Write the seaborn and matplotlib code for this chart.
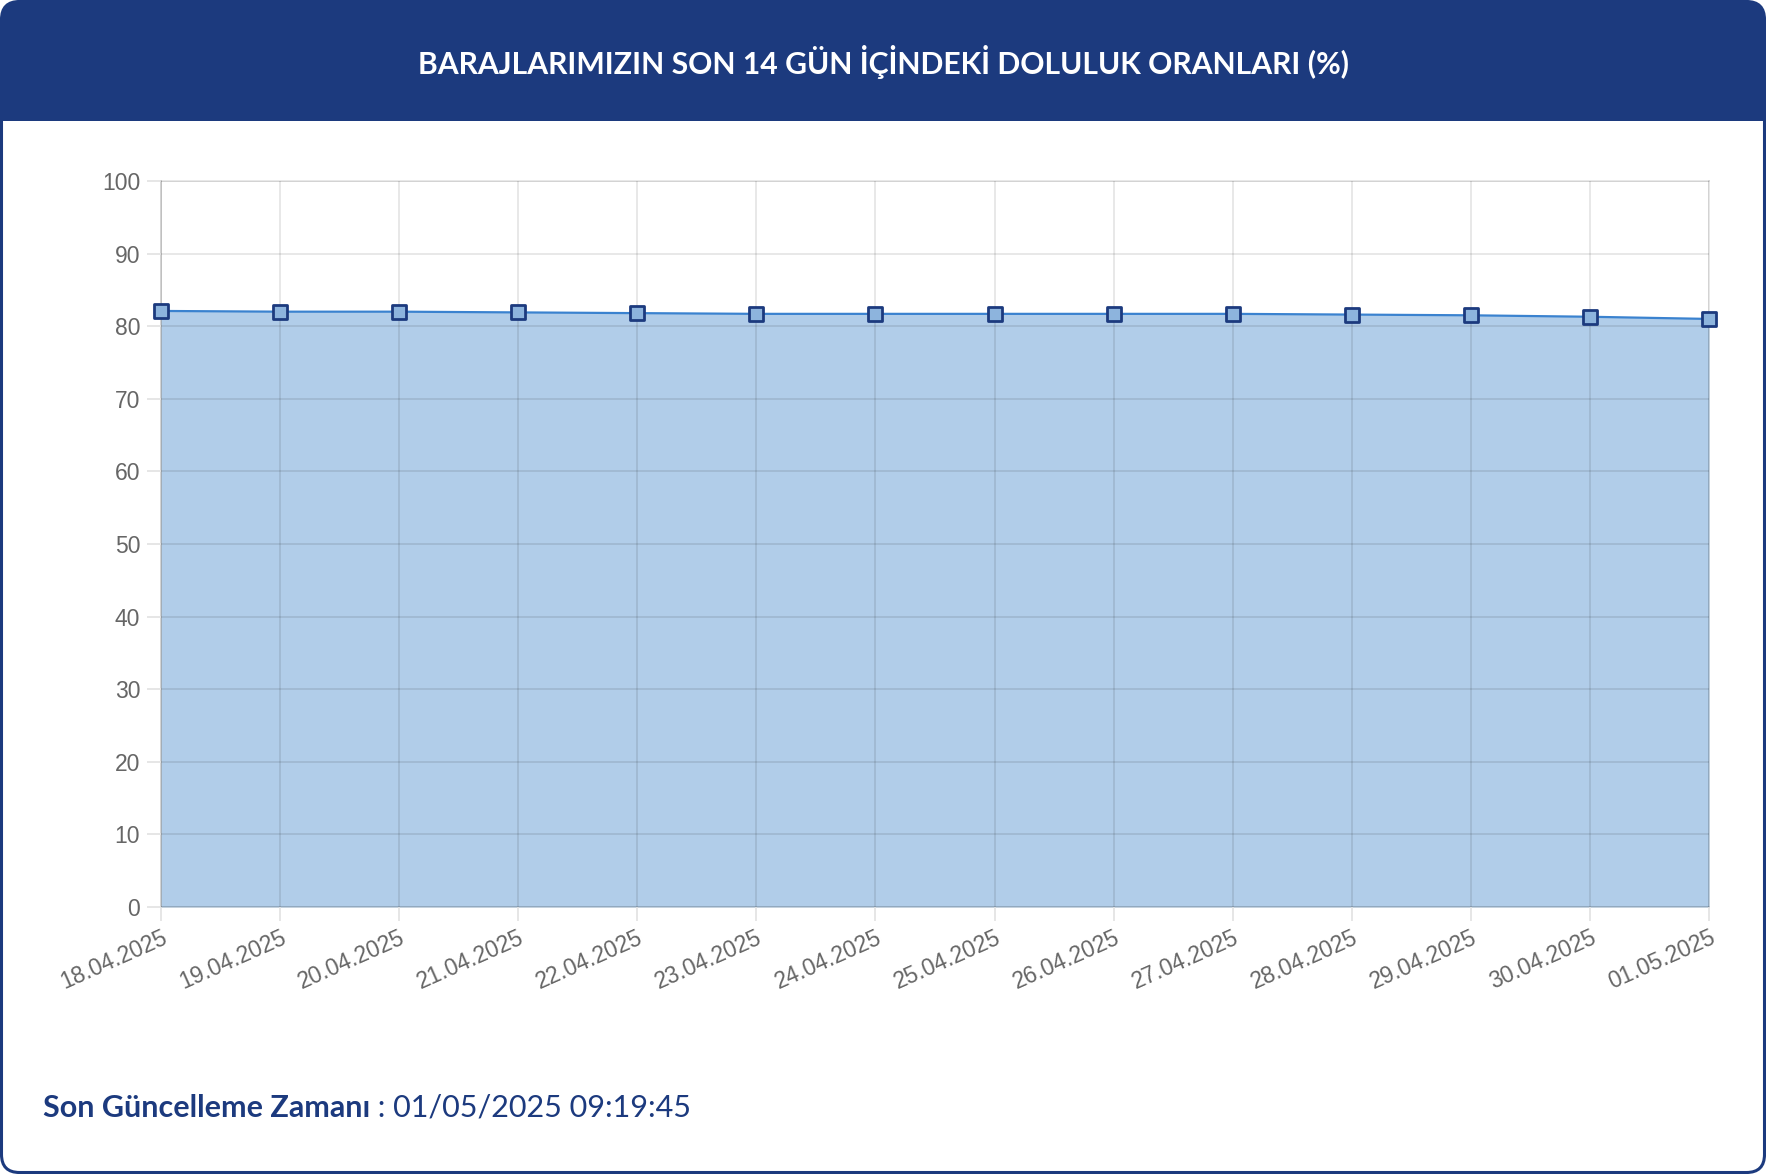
import matplotlib
matplotlib.use("Agg")
import matplotlib.pyplot as plt
import seaborn as sns
import pandas as pd
from matplotlib.patches import FancyBboxPatch, Rectangle
from matplotlib.markers import MarkerStyle

# veriler
tarihler = ["18.04.2025", "19.04.2025", "20.04.2025", "21.04.2025", "22.04.2025",
            "23.04.2025", "24.04.2025", "25.04.2025", "26.04.2025", "27.04.2025",
            "28.04.2025", "29.04.2025", "30.04.2025", "01.05.2025"]
doluluk = [82.1, 82.0, 82.0, 81.9, 81.8, 81.7, 81.7, 81.7, 81.7, 81.7,
           81.6, 81.5, 81.3, 81.0]
y_ticks = list(range(0, 101, 10))

baslik = "BARAJLARIMIZIN SON 14 GÜN İÇİNDEKİ DOLULUK ORANLARI (%)"
guncelleme_etiket = "Son Güncelleme Zamanı"
guncelleme_zaman = " : 01/05/2025 09:19:45"

LACIVERT = "#1c3a7e"
GRID = (0, 0, 0, 0.11)

sns.set_theme(style="white")
plt.rcParams['font.family'] = ['Liberation Sans', 'DejaVu Sans']

W, H = 1766, 1174
fig = plt.figure(figsize=(W / 100, H / 100), dpi=100)

# arka plan / kart
bg = fig.add_axes([0, 0, 1, 1])
bg.set_xlim(0, W)
bg.set_ylim(H, 0)
bg.axis("off")
kart = FancyBboxPatch((1.5, 1.5), W - 3, H - 3,
                      boxstyle="round,pad=0,rounding_size=18",
                      fc="white", ec=LACIVERT, lw=2.2, zorder=1)
bg.add_patch(kart)
ust = Rectangle((0, 0), W, 121, fc=LACIVERT, ec="none", zorder=2)
bg.add_patch(ust)
ust.set_clip_path(kart)
bg.text(W / 2, 62, baslik, color="white", fontsize=21.7, fontweight="bold",
        family=["Lato", "DejaVu Sans"], ha="center", va="center", zorder=3)

t1 = bg.text(43, 1108, guncelleme_etiket, color=LACIVERT, fontsize=22,
             fontweight="bold", family=["Lato", "DejaVu Sans"],
             ha="left", va="center", zorder=3)
fig.canvas.draw()
bb = t1.get_window_extent()
x_end = bb.x1
bg.annotate(guncelleme_zaman, xy=(x_end, H - 1108), xycoords="figure pixels",
            color=LACIVERT, fontsize=22, family=["Lato", "DejaVu Sans"],
            ha="left", va="center", zorder=3)

# grafik
ax = fig.add_axes([161 / W, 1 - 907 / H, (1709 - 161) / W, (907 - 181) / H])
ax.set_facecolor("none")
df = pd.DataFrame({"tarih": tarihler, "doluluk": doluluk})

ax.fill_between(df["tarih"], df["doluluk"], 0, color="#3c82c8", alpha=0.4,
                lw=0, zorder=1)
sns.lineplot(data=df, x="tarih", y="doluluk", ax=ax, color="#3a82cf", lw=1.6,
             marker=MarkerStyle("s", joinstyle="round"), markersize=10,
             markerfacecolor="#8db4dd", markeredgecolor=LACIVERT,
             markeredgewidth=2, clip_on=False, zorder=4)

ax.set_xlim(0, len(tarihler) - 1)
ax.set_ylim(0, 100)
ax.set_yticks(y_ticks)
ax.set_xlabel("")
ax.set_ylabel("")
ax.set_axisbelow(False)
ax.grid(True, color="black", alpha=0.11, lw=1.2, zorder=2)
for s in ax.spines.values():
    s.set_edgecolor(GRID)
    s.set_linewidth(1.2)
    s.set_zorder(2)
ax.spines["left"].set_edgecolor((0, 0, 0, 0.2))
ax.tick_params(axis="both", which="major", length=10, width=1.2,
               color="#e2e2e2", labelcolor="#666666", labelsize=16.5,
               left=True, bottom=True)
ax.tick_params(axis="y", pad=5)
ax.tick_params(axis="x", pad=4)
for lbl in ax.get_xticklabels():
    lbl.set_rotation(24)
    lbl.set_ha("right")
    lbl.set_rotation_mode("anchor")

fig.savefig("out.png", dpi=100)
